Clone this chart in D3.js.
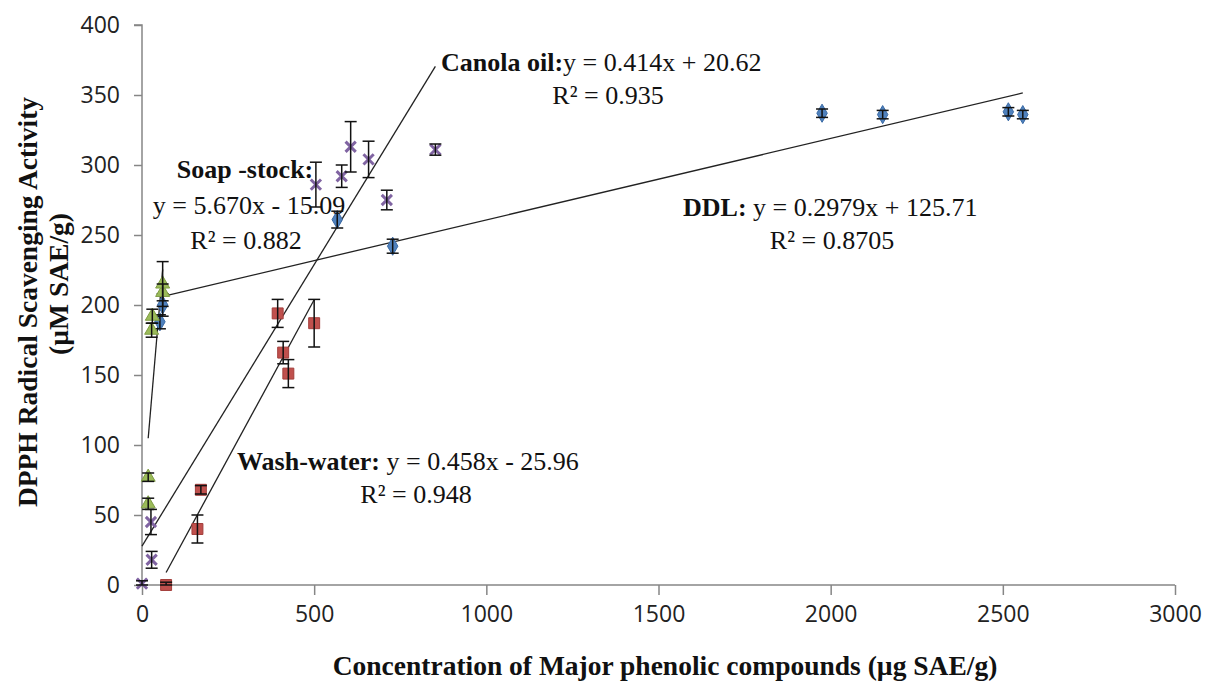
<!DOCTYPE html>
<html lang="en">
<head>
  <meta charset="UTF-8">
  <title>DPPH vs phenolic compounds</title>
  <script src="https://d3js.org/d3.v7.min.js"></script>
  <style>
    body { margin: 0; background: #fff; }
    .tick-label { font-family: "Open Sans", sans-serif; font-size: 23px; fill: #222; }
    .title { font-family: "Liberation Serif", serif; font-weight: bold; font-size: 27.5px; fill: #111; }
    .note { font-family: "Liberation Serif", serif; font-size: 26px; fill: #111; }
  </style>
</head>
<body>
  <svg id="chart" width="1205" height="684"></svg>

  <script>
    // values
    const xTicks = [0, 500, 1000, 1500, 2000, 2500, 3000];
    const yTicks = [0, 50, 100, 150, 200, 250, 300, 350, 400];

    const ddlX = [52, 60, 567, 728, 1975, 2151, 2516, 2558];
    const ddlY = [188, 200, 261, 242, 337, 336, 338, 336];
    const ddlErr = [5, 8, 6, 5, 3, 3, 3, 3];

    const washX = [70, 161, 171, 394, 410, 425, 500];
    const washY = [0, 40, 68, 194, 166, 151, 187];
    const washErr = [2, 10, 3, 10, 8, 10, 17];

    const soapX = [18, 18, 28, 30, 60, 60];
    const soapY = [58, 77, 182, 192, 209, 215];
    const soapErr = [4, 3, 5, 5, 6, 16];

    const canolaX = [0, 26, 28, 505, 580, 606, 658, 711, 852];
    const canolaY = [1, 45, 18, 286, 292, 313, 304, 275, 311];
    const canolaErr = [2, 9, 6, 16, 8, 18, 13, 7, 4];

    const series = [
      { name: "DDL", xs: ddlX, ys: ddlY, err: ddlErr, color: "#4F81BD", edge: "#3a6aa5", shape: "diamond" },
      { name: "Wash-water", xs: washX, ys: washY, err: washErr, color: "#C0504D", edge: "#a33e3b", shape: "square" },
      { name: "Soap-stock", xs: soapX, ys: soapY, err: soapErr, color: "#9BBB59", edge: "#7f9d44", shape: "triangle" },
      { name: "Canola oil", xs: canolaX, ys: canolaY, err: canolaErr, color: "#8064A2", edge: "#8064A2", shape: "x" }
    ];

    const svg = d3.select("#chart");
    svg.append("rect").attr("width", 1205).attr("height", 684).attr("fill", "#fff");

    const x = d3.scaleLinear().domain([0, 3000]).range([142, 1175]);
    const y = d3.scaleLinear().domain([0, 400]).range([585, 25]);

    // axes
    const xAxis = svg.append("g").attr("transform", "translate(0,585)")
      .call(d3.axisBottom(x).tickValues(xTicks).tickSize(10).tickPadding(11).tickFormat(d3.format("d")));
    const yAxis = svg.append("g").attr("transform", "translate(142,0)")
      .call(d3.axisLeft(y).tickValues(yTicks).tickSize(8).tickPadding(14).tickFormat(d3.format("d")));
    [xAxis, yAxis].forEach(a => {
      a.select(".domain").attr("stroke", "#868686").attr("stroke-width", 1.5);
      a.selectAll(".tick line").attr("stroke", "#868686").attr("stroke-width", 1.5);
      a.selectAll(".tick text").attr("class", "tick-label").attr("fill", "#222");
    });
    xAxis.select(".domain").attr("d", "M142,0H1175");
    yAxis.select(".domain").attr("d", "M-8,25H0V585");

    // regression trend lines
    function fit(xs, ys) {
      const mx = d3.mean(xs), my = d3.mean(ys);
      const sxy = d3.sum(xs, (v, i) => (v - mx) * (ys[i] - my));
      const sxx = d3.sum(xs, v => (v - mx) * (v - mx));
      const b = sxy / sxx;
      return { b, a: my - b * mx };
    }
    const line = d3.line().x(d => x(d[0])).y(d => y(d[1]));
    series.forEach(s => {
      const f = fit(s.xs, s.ys);
      const [x0, x1] = d3.extent(s.xs);
      svg.append("path")
        .attr("d", line([[x0, f.a + f.b * x0], [x1, f.a + f.b * x1]]))
        .attr("fill", "none")
        .attr("stroke", "#222")
        .attr("stroke-width", 1.3);
    });

    // markers
    const symbols = {
      diamond: d3.symbol().type(d3.symbolDiamond).size(95),
      square: d3.symbol().type(d3.symbolSquare).size(120),
      triangle: d3.symbol().type(d3.symbolTriangle).size(85),
      x: d3.symbol().type(d3.symbolX).size(70)
    };
    series.forEach(s => {
      const pts = s.xs.map((v, i) => ({ x: v, y: s.ys[i], e: s.err[i] }));
      const g = svg.append("g");
      g.selectAll("path").data(pts).enter().append("path")
        .attr("transform", d => `translate(${x(d.x)},${y(d.y)})`)
        .attr("d", symbols[s.shape])
        .attr("fill", s.shape === "x" ? "none" : s.color)
        .attr("stroke", s.edge)
        .attr("stroke-width", s.shape === "x" ? 3 : 1);

      // error bars
      const eb = svg.append("g").attr("stroke", "#111").attr("stroke-width", 1.5);
      pts.forEach(d => {
        const cx = x(d.x), top = y(d.y + d.e), bot = y(Math.max(0, d.y - d.e));
        eb.append("line").attr("x1", cx).attr("x2", cx).attr("y1", top).attr("y2", bot);
        eb.append("line").attr("x1", cx - 6).attr("x2", cx + 6).attr("y1", top).attr("y2", top);
        eb.append("line").attr("x1", cx - 6).attr("x2", cx + 6).attr("y1", bot).attr("y2", bot);
      });
    });

    // axis titles
    svg.append("text").attr("class", "title")
      .attr("x", 665).attr("y", 675).attr("text-anchor", "middle")
      .text("Concentration of Major phenolic compounds (µg SAE/g)");
    svg.append("text").attr("class", "title")
      .attr("transform", "translate(37,302) rotate(-90)").attr("text-anchor", "middle")
      .text("DPPH Radical Scavenging Activity");
    svg.append("text").attr("class", "title")
      .attr("transform", "translate(68,284) rotate(-90)").attr("text-anchor", "middle")
      .text("(µM SAE/g)");

    // trend line labels
    function note(px, py, bold, rest, anchor) {
      const t = svg.append("text").attr("class", "note")
        .attr("x", px).attr("y", py).attr("text-anchor", anchor || "start");
      if (bold) t.append("tspan").attr("font-weight", "bold").text(bold);
      if (rest) t.append("tspan").text(rest);
    }
    note(441, 71, "Canola oil:", "y = 0.414x + 20.62");
    note(608, 104, null, "R² = 0.935", "middle");
    note(245, 178, "Soap -stock:", null, "middle");
    note(249, 214, null, "y = 5.670x - 15.09", "middle");
    note(246, 249, null, "R² = 0.882", "middle");
    note(683, 216, "DDL:", " y = 0.2979x + 125.71");
    note(832, 249, null, "R² = 0.8705", "middle");
    note(237, 470, "Wash-water:", " y = 0.458x - 25.96");
    note(416, 503, null, "R² = 0.948", "middle");
  </script>
</body>
</html>
